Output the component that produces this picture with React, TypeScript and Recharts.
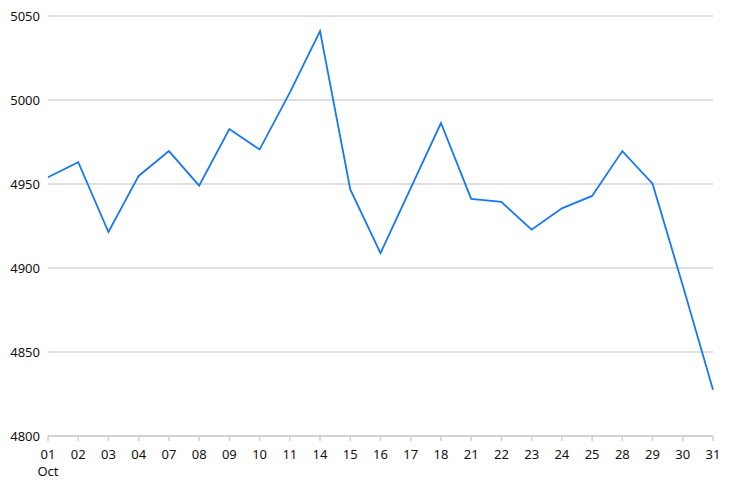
import { CartesianGrid, Line, LineChart, XAxis, YAxis } from "recharts";

// Trading days in October
const DIAS = [
  "01", "02", "03", "04", "07", "08", "09", "10", "11", "14", "15", "16",
  "17", "18", "21", "22", "23", "24", "25", "28", "29", "30", "31",
];

const VALORES = [
  4954, 4963, 4921.4, 4954.8, 4969.6, 4949, 4982.7, 4970.5, 5004.4, 5041, 4946.8, 4908.9,
  4947.6, 4986.3, 4941.1, 4939.3, 4922.8, 4935.5, 4942.9, 4969.6, 4950.2, 4889.6, 4827.6,
];

const Y_TICKS = [4800, 4850, 4900, 4950, 5000, 5050];

const data = DIAS.map((dia, i) => ({ dia, valor: VALORES[i] }));

const FONT = "'Noto Sans', 'Open Sans', sans-serif";

function DiaTick({ x, y, payload, index }: any) {
  return (
    <g transform={`translate(${x},${y})`}>
      <text x={0} y={0} dy={16} textAnchor="middle" fontSize={13} fill="#111" fontFamily={FONT}>
        {payload.value}
      </text>
      {index === 0 && (
        <text x={0} y={0} dy={33} textAnchor="middle" fontSize={13} fill="#111" fontFamily={FONT}>
          Oct
        </text>
      )}
    </g>
  );
}

export default function App() {
  return (
    <div style={{ position: "fixed", left: 0, top: 0, background: "#fff" }}>
      <LineChart
        width={742}
        height={492}
        data={data}
        margin={{ top: 16, right: 29, left: 0, bottom: 16 }}
      >
        <CartesianGrid vertical={false} stroke="#d4d4d8" strokeWidth={1.5} />
        <XAxis
          dataKey="dia"
          interval={0}
          height={40}
          stroke="#cfcfcf"
          strokeWidth={1.5}
          tickSize={5}
          tick={<DiaTick />}
        />
        <YAxis
          width={48}
          domain={[4800, 5050]}
          ticks={Y_TICKS}
          axisLine={false}
          tickLine={false}
          tick={{ fontSize: 13, fill: "#111", fontFamily: FONT }}
        />
        <Line
          type="linear"
          dataKey="valor"
          stroke="#1877f2"
          strokeWidth={1.8}
          dot={false}
          isAnimationActive={false}
        />
      </LineChart>
    </div>
  );
}
